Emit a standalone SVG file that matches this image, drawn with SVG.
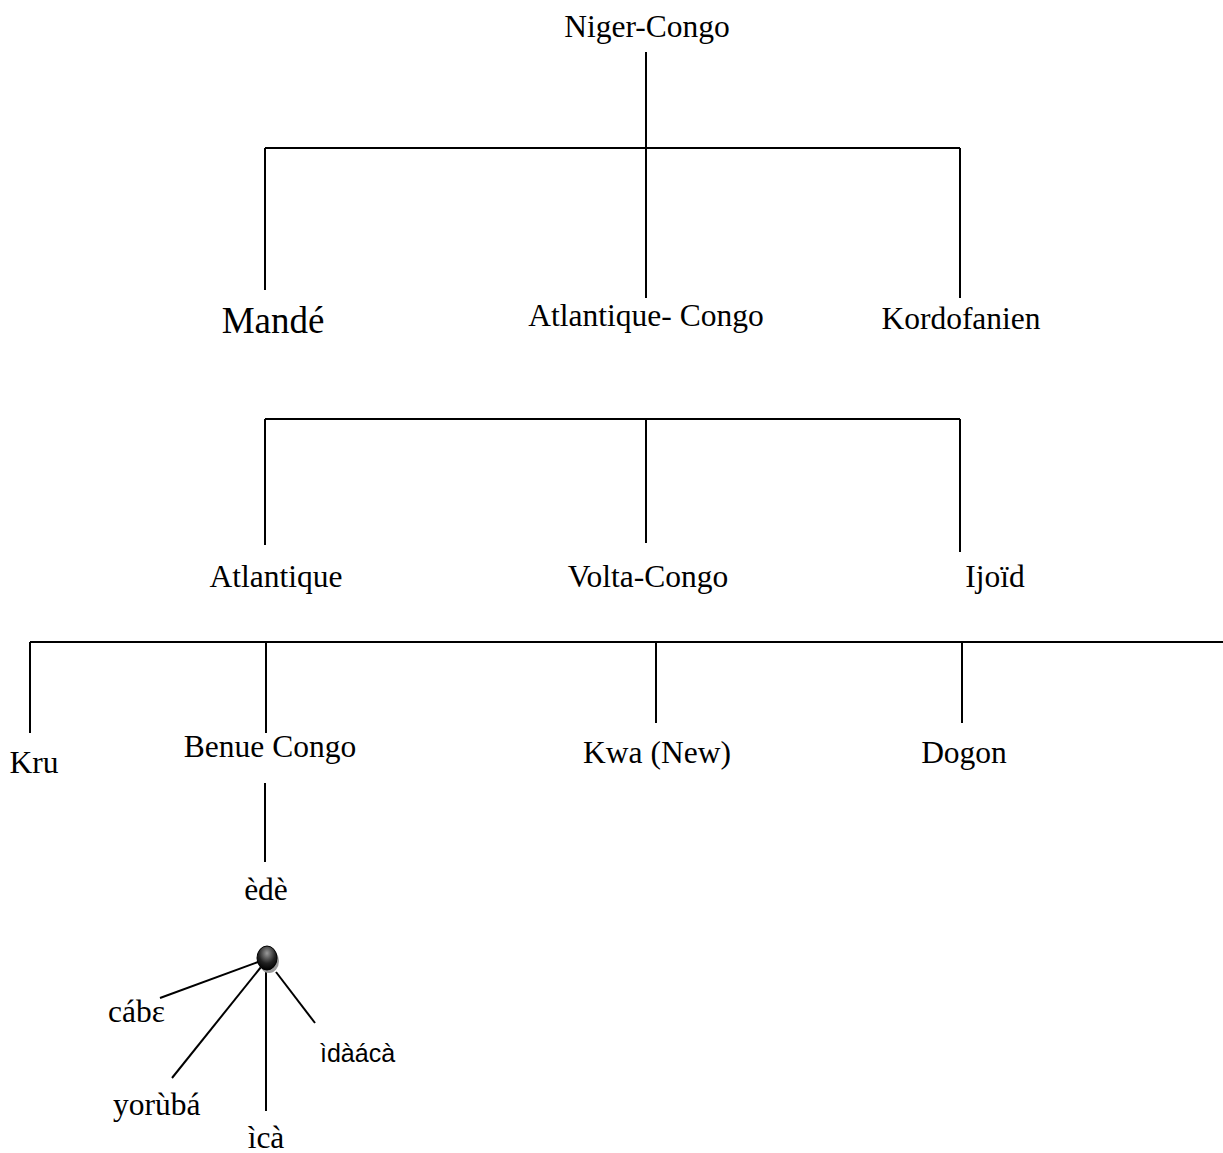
<svg xmlns="http://www.w3.org/2000/svg" width="1223" height="1153" viewBox="0 0 1223 1153">
<style>
.t{font-family:"Liberation Serif","Times New Roman",serif;font-size:31.5px;fill:#000;text-anchor:middle}
.s{font-family:"Liberation Sans",Arial,sans-serif;font-size:25px;fill:#000}
.c line{stroke:#000;stroke-width:2}
</style>
<defs>
<radialGradient id="g" cx="0.5" cy="0.3" r="0.7">
<stop offset="0" stop-color="#9a9a9a"/>
<stop offset="0.6" stop-color="#222"/>
<stop offset="1" stop-color="#000"/>
</radialGradient>
</defs>
<rect width="1223" height="1153" fill="#fff"/>
<g class="c" id="connectors">
<line x1="646" y1="52" x2="646" y2="148"/>
<line x1="265" y1="148" x2="960" y2="148"/>
<line x1="265" y1="148" x2="265" y2="290"/>
<line x1="646" y1="148" x2="646" y2="298"/>
<line x1="960" y1="148" x2="960" y2="298"/>
<line x1="265" y1="419" x2="960" y2="419"/>
<line x1="265" y1="419" x2="265" y2="545"/>
<line x1="646" y1="419" x2="646" y2="543"/>
<line x1="960" y1="419" x2="960" y2="552"/>
<line x1="30" y1="642" x2="1223" y2="642"/>
<line x1="30" y1="642" x2="30" y2="733"/>
<line x1="266" y1="642" x2="266" y2="733"/>
<line x1="656" y1="642" x2="656" y2="723"/>
<line x1="962" y1="642" x2="962" y2="723"/>
<line x1="265" y1="783" x2="265" y2="862"/>
<line x1="258" y1="962" x2="160" y2="998"/>
<line x1="261" y1="967" x2="172" y2="1078"/>
<line x1="266" y1="968" x2="266" y2="1111"/>
<line x1="276" y1="972" x2="315" y2="1023"/>
</g>
<g id="n-niger-congo"><text class="t" x="647" y="37">Niger-Congo</text></g>
<g id="n-mande"><text class="t" x="273" y="333" style="font-size:37px">Mandé</text></g>
<g id="n-atlantique-congo"><text class="t" x="646" y="326">Atlantique- Congo</text></g>
<g id="n-kordofanien"><text class="t" x="961" y="329">Kordofanien</text></g>
<g id="n-atlantique"><text class="t" x="276" y="587">Atlantique</text></g>
<g id="n-volta-congo"><text class="t" x="648" y="587">Volta-Congo</text></g>
<g id="n-ijoid"><text class="t" x="995" y="587">Ijoïd</text></g>
<g id="n-kru"><text class="t" x="34" y="773">Kru</text></g>
<g id="n-benue-congo"><text class="t" x="270" y="757">Benue Congo</text></g>
<g id="n-kwa"><text class="t" x="657" y="763">Kwa (New)</text></g>
<g id="n-dogon"><text class="t" x="964" y="763">Dogon</text></g>
<g id="n-ede"><text class="t" x="266" y="900">èdè</text></g>
<g id="n-hub">
<ellipse cx="269" cy="961" rx="10" ry="12" fill="#999"/>
<ellipse cx="267" cy="958" rx="10" ry="12" fill="url(#g)" stroke="#000" stroke-width="1"/>
</g>
<g id="n-cabe"><text class="t" x="108" y="1022" style="text-anchor:start">cábɛ</text></g>
<g id="n-yoruba"><text class="t" x="113" y="1115" style="text-anchor:start">yorùbá</text></g>
<g id="n-ica"><text class="t" x="266" y="1148">ìcà</text></g>
<g id="n-idaaca"><text class="s" x="320" y="1062">ìdàácà</text></g>
</svg>
